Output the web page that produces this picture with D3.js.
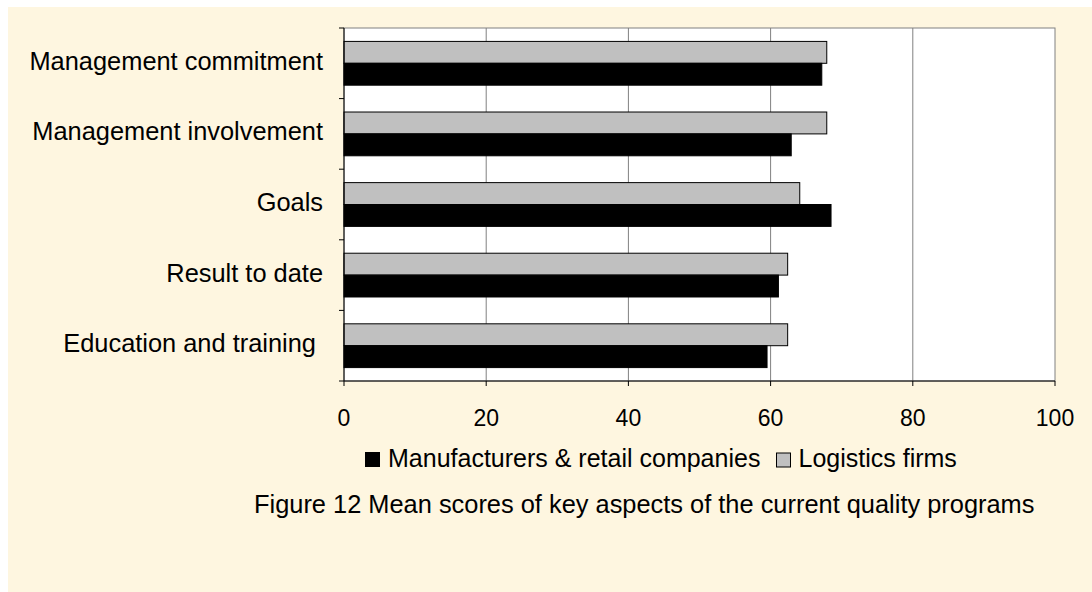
<!DOCTYPE html>
<html>
<head>
<meta charset="utf-8">
<script src="https://cdn.jsdelivr.net/npm/d3@7"></script>
<style>
  html, body { margin: 0; padding: 0; background: #ffffff; }
  svg { display: block; }
  text { font-family: "Liberation Sans", Arial, sans-serif; fill: #000; }
</style>
</head>
<body>
<script>
const categories = ["Management commitment", "Management involvement", "Goals", "Result to date", "Education and training "];
const seriesNames = ["Manufacturers & retail companies", "Logistics firms"];
const manufacturers = [67.2, 62.9, 68.5, 61.1, 59.5];
const logistics = [67.9, 67.9, 64.1, 62.4, 62.4];
const xTicks = [0, 20, 40, 60, 80, 100];
const caption = "Figure 12 Mean scores of key aspects of the current quality programs";

const W = 1092, H = 592;
const svg = d3.select("body").append("svg").attr("width", W).attr("height", H);

svg.append("rect").attr("x", 8).attr("y", 7).attr("width", W - 8).attr("height", H - 7).attr("fill", "#FEF6E0");

const pL = 344, pR = 1055, pT = 28, pB = 381;
const x = d3.scaleLinear().domain([0, 100]).range([pL, pR]);
const y = d3.scaleBand().domain(categories).range([pT, pB]).padding(0);
const step = y.step();
const sub = d3.scaleBand().domain(["logistics", "manufacturers"]).range([step * 0.19, step * 0.81]).padding(0);

// plot area
svg.append("rect").attr("x", pL).attr("y", pT).attr("width", pR - pL).attr("height", pB - pT)
  .attr("fill", "#ffffff").attr("stroke", "#808080").attr("stroke-width", 1);

// gridlines
svg.append("g").selectAll("line").data(xTicks.filter(d => d > 0 && d < 100)).join("line")
  .attr("x1", d => x(d)).attr("x2", d => x(d)).attr("y1", pT).attr("y2", pB)
  .attr("stroke", "#808080").attr("stroke-width", 1);

// bars
const rows = categories.map((c, i) => ({c, logistics: logistics[i], manufacturers: manufacturers[i]}));
const g = svg.append("g");
rows.forEach(r => {
  g.append("rect").attr("x", x(0)).attr("y", y(r.c) + sub("logistics"))
    .attr("width", x(r.logistics) - x(0)).attr("height", sub.bandwidth())
    .attr("fill", "#C0C0C0").attr("stroke", "#000").attr("stroke-width", 1);
  g.append("rect").attr("x", x(0)).attr("y", y(r.c) + sub("manufacturers"))
    .attr("width", x(r.manufacturers) - x(0)).attr("height", sub.bandwidth())
    .attr("fill", "#000").attr("stroke", "#000").attr("stroke-width", 1);
});

// y axis
const bounds = categories.map(c => y(c)).concat([pB]);
svg.append("line").attr("x1", pL).attr("x2", pL).attr("y1", pT).attr("y2", pB).attr("stroke", "#000");
svg.append("g").selectAll("line").data(bounds).join("line")
  .attr("x1", pL - 5).attr("x2", pL).attr("y1", d => d).attr("y2", d => d).attr("stroke", "#000");
svg.append("g").selectAll("text").data(categories).join("text")
  .attr("x", 323).attr("y", d => y(d) + step / 2 + 6.5)
  .attr("text-anchor", "end").style("font-size", "25.4px").style("white-space", "pre")
  .text(d => d);

// x axis
svg.append("line").attr("x1", pL).attr("x2", pR).attr("y1", pB).attr("y2", pB).attr("stroke", "#000");
svg.append("g").selectAll("line").data(xTicks).join("line")
  .attr("x1", d => x(d)).attr("x2", d => x(d)).attr("y1", pB).attr("y2", pB + 5).attr("stroke", "#000");
svg.append("g").selectAll("text").data(xTicks).join("text")
  .attr("x", d => x(d)).attr("y", 426).attr("text-anchor", "middle").style("font-size", "23px")
  .text(d => d);

// legend
const legend = svg.append("g");
legend.append("rect").attr("x", 365.5).attr("y", 452.5).attr("width", 14).attr("height", 14).attr("fill", "#000").attr("stroke", "#000");
legend.append("text").attr("x", 388).attr("y", 466.5).style("font-size", "25px").text(seriesNames[0]);
legend.append("rect").attr("x", 776.5).attr("y", 453).attr("width", 14).attr("height", 14).attr("fill", "#C0C0C0").attr("stroke", "#000");
legend.append("text").attr("x", 798.5).attr("y", 466.5).style("font-size", "25px").text(seriesNames[1]);

// caption
svg.append("text").attr("x", 254).attr("y", 513).style("font-size", "25.4px").text(caption);
</script>
</body>
</html>
